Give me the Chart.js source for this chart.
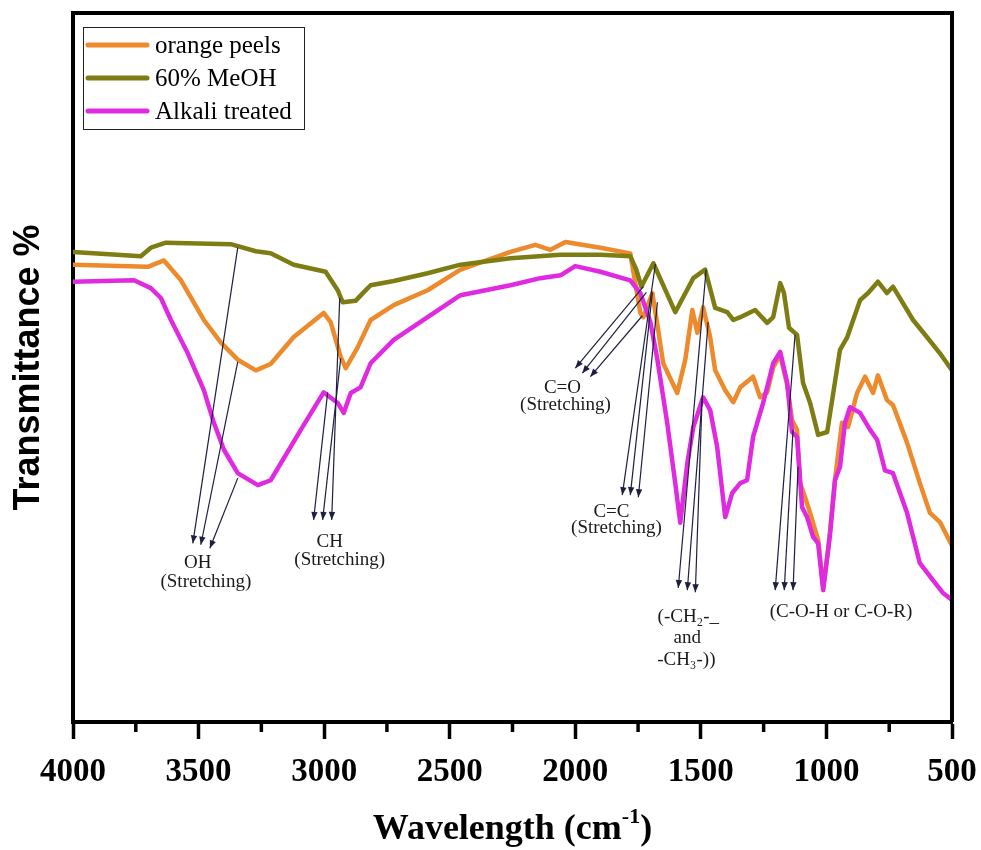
<!DOCTYPE html>
<html>
<head>
<meta charset="utf-8">
<script src="https://cdn.jsdelivr.net/npm/chart.js@4.4.0/dist/chart.umd.min.js"></script>
<style>
  html, body { margin: 0; padding: 0; background: #fff; }
</style>
</head>
<body>
<canvas id="ftirChart" width="981" height="850"></canvas>
<script>
// spectra: wavenumber (cm-1) and transmittance (%)
const orangeWn = [4000, 3702, 3638, 3570, 3479, 3411, 3344, 3272, 3213, 3121, 3002, 2974, 2934, 2914, 2867, 2815, 2723, 2588, 2457, 2258, 2159, 2099, 2039, 1900, 1781, 1741, 1729, 1693, 1670, 1650, 1594, 1562, 1534, 1514, 1491, 1463, 1443, 1403, 1371, 1343, 1292, 1264, 1236, 1212, 1184, 1156, 1137, 1117, 1105, 1085, 1065, 1033, 1013, 993, 966, 938, 914, 878, 846, 814, 795, 759, 735, 679, 628, 588, 548, 502];
const orangeT  = [64.5, 64.2, 65.1, 62.3, 56.7, 53.5, 51.1, 49.6, 50.5, 54.3, 57.7, 56.4, 51.5, 49.9, 52.8, 56.7, 58.8, 60.9, 63.8, 66.3, 67.3, 66.6, 67.7, 66.9, 66.1, 57.7, 57.1, 60.5, 55.3, 50.6, 46.4, 51.1, 58.1, 54.9, 58.5, 54.3, 49.6, 46.8, 45.1, 47.2, 48.7, 45.8, 46.5, 50.0, 51.8, 47.5, 42.6, 41.2, 33.7, 31.7, 29.5, 25.7, 19.0, 24.3, 34.1, 42.2, 41.6, 46.4, 48.7, 46.4, 48.9, 45.4, 44.7, 39.4, 33.7, 29.5, 28.2, 25.0];

const meohWn = [4000, 3730, 3690, 3630, 3372, 3272, 3213, 3121, 2994, 2946, 2926, 2875, 2843, 2815, 2723, 2588, 2457, 2258, 2059, 1900, 1781, 1757, 1737, 1689, 1602, 1530, 1483, 1443, 1395, 1371, 1343, 1284, 1236, 1212, 1184, 1169, 1149, 1117, 1093, 1065, 1033, 997, 946, 918, 866, 834, 795, 759, 735, 655, 600, 548, 502];
const meohT  = [66.3, 65.7, 66.9, 67.6, 67.4, 66.4, 66.1, 64.5, 63.5, 60.9, 59.2, 59.4, 60.6, 61.6, 62.2, 63.3, 64.5, 65.4, 65.9, 65.9, 65.7, 63.8, 61.4, 64.7, 57.8, 62.6, 63.8, 58.4, 57.8, 56.7, 57.1, 58.1, 56.3, 57.1, 61.9, 60.5, 55.6, 54.6, 47.8, 45.0, 40.5, 40.9, 52.5, 54.2, 59.5, 60.5, 62.1, 60.5, 61.4, 56.7, 54.3, 52.0, 49.7];

const alkaliWn = [4000, 3757, 3690, 3650, 3610, 3543, 3479, 3439, 3399, 3344, 3264, 3213, 3093, 3002, 2946, 2922, 2894, 2855, 2815, 2723, 2588, 2457, 2258, 2139, 2059, 2000, 1900, 1781, 1741, 1701, 1673, 1634, 1602, 1582, 1554, 1530, 1491, 1463, 1435, 1403, 1375, 1343, 1316, 1292, 1252, 1212, 1184, 1156, 1137, 1117, 1097, 1077, 1053, 1033, 1013, 985, 966, 946, 926, 906, 866, 826, 798, 767, 735, 679, 628, 576, 536, 502];
const alkaliT  = [62.1, 62.3, 61.2, 59.8, 56.7, 52.0, 46.8, 42.2, 38.4, 35.1, 33.4, 34.1, 41.2, 46.5, 45.0, 43.6, 46.4, 47.2, 50.6, 53.9, 57.1, 60.2, 61.6, 62.6, 63.0, 64.3, 63.5, 62.3, 60.5, 56.4, 51.1, 42.2, 33.7, 28.1, 36.5, 41.6, 45.8, 44.0, 38.8, 28.9, 32.3, 33.7, 34.1, 40.2, 45.0, 50.6, 52.2, 47.8, 40.9, 40.2, 30.3, 28.9, 26.1, 25.2, 18.6, 26.7, 34.1, 36.0, 42.2, 44.4, 43.6, 41.2, 39.8, 35.5, 35.1, 29.5, 22.4, 20.0, 18.2, 17.3];

const xTicks = [4000, 3500, 3000, 2500, 2000, 1500, 1000, 500];
const xMinorTicks = [3750, 3250, 2750, 2250, 1750, 1250, 750];

// band assignments: arrow tails on the curves, arrow heads near the labels (wn, T)
const arrowFrom = [
  [3344, 66.9], [3344, 50.8], [3344, 34.4],
  [2938, 59.8], [2934, 51.3], [2986, 46.5],
  [1729, 61.4], [1717, 60.6], [1733, 57.3],
  [1681, 64.6], [1693, 60.6], [1673, 59.2],
  [1479, 63.8], [1471, 56.4], [1495, 45.7],
  [1125, 54.6], [1133, 41.2], [1113, 36.0]
];
const arrowTo = [
  [3523, 25.2], [3491, 25.0], [3455, 24.5],
  [2970, 28.5], [3006, 28.5], [3042, 28.5],
  [2000, 49.9], [1972, 49.2], [1940, 48.7],
  [1813, 32.0], [1781, 32.0], [1749, 31.7],
  [1590, 18.9], [1554, 18.6], [1522, 18.3],
  [1204, 18.6], [1168, 18.6], [1133, 18.6]
];
const noteText = ['OH', '(Stretching)', 'CH', '(Stretching)', 'C=O', '(Stretching)', 'C=C', '(Stretching)',
                  '(-CH\u2082-_', 'and', '-CH\u2083-))', '(C-O-H or C-O-R)'];
const noteWn = [3503, 3471, 2978, 2938, 2051, 2039, 1856, 1836, 1550, 1554, 1558, 942];
const noteT  = [22.4, 19.7, 25.4, 22.8, 47.1, 44.7, 29.6, 27.4, 14.8, 11.8, 8.7, 15.5];

const serif = "'Liberation Serif', 'Times New Roman', 'DejaVu Serif', serif";
const sans = "'Liberation Sans', Arial, sans-serif";

function toPoints(wn, t) {
  return wn.map((w, i) => ({ x: w, y: t[i] }));
}

// frame, minor ticks, x title with superscript, legend and band notes
const ftirExtras = {
  id: 'ftirExtras',
  afterDraw(chart) {
    const { ctx, chartArea: area, scales: { x, y } } = chart;
    ctx.save();

    ctx.strokeStyle = '#000';
    ctx.lineWidth = 4;
    ctx.beginPath();
    ctx.moveTo(area.left, area.top);
    ctx.lineTo(area.right, area.top);
    ctx.lineTo(area.right, area.bottom);
    ctx.stroke();

    ctx.lineWidth = 3.5;
    xMinorTicks.forEach(v => {
      const px = x.getPixelForValue(v);
      ctx.beginPath();
      ctx.moveTo(px, area.bottom);
      ctx.lineTo(px, area.bottom + 10);
      ctx.stroke();
    });

    // x title: "Wavelength (cm" + superscript "-1" + ")"
    const big = 'bold 36px ' + serif, small = 'bold 22px ' + serif;
    const parts = [['Wavelength (cm', big, 0], ['-1', small, -13], [')', big, 0]];
    let total = 0;
    parts.forEach(p => { ctx.font = p[1]; total += ctx.measureText(p[0]).width; });
    let tx = (area.left + area.right) / 2 - total / 2;
    const ty = chart.height - 20;
    ctx.fillStyle = '#000';
    ctx.textAlign = 'left';
    ctx.textBaseline = 'middle';
    parts.forEach(p => {
      ctx.font = p[1];
      ctx.fillText(p[0], tx, ty + p[2]);
      tx += ctx.measureText(p[0]).width;
    });

    // arrows
    ctx.strokeStyle = '#1e1e40';
    ctx.fillStyle = '#1e1e40';
    ctx.lineWidth = 1.2;
    arrowFrom.forEach((from, i) => {
      const x0 = x.getPixelForValue(from[0]), y0 = y.getPixelForValue(from[1]);
      const x1 = x.getPixelForValue(arrowTo[i][0]), y1 = y.getPixelForValue(arrowTo[i][1]);
      const ang = Math.atan2(y1 - y0, x1 - x0);
      ctx.beginPath();
      ctx.moveTo(x0, y0);
      ctx.lineTo(x1, y1);
      ctx.stroke();
      ctx.beginPath();
      ctx.moveTo(x1, y1);
      ctx.lineTo(x1 - 8 * Math.cos(ang) + 3.2 * Math.sin(ang), y1 - 8 * Math.sin(ang) - 3.2 * Math.cos(ang));
      ctx.lineTo(x1 - 8 * Math.cos(ang) - 3.2 * Math.sin(ang), y1 - 8 * Math.sin(ang) + 3.2 * Math.cos(ang));
      ctx.closePath();
      ctx.fill();
    });

    ctx.fillStyle = '#1a1a1a';
    ctx.font = '19px ' + serif;
    ctx.textAlign = 'center';
    noteText.forEach((txt, i) => {
      ctx.fillText(txt, x.getPixelForValue(noteWn[i]), y.getPixelForValue(noteT[i]));
    });

    // legend box
    ctx.strokeStyle = '#222';
    ctx.lineWidth = 1;
    ctx.strokeRect(83.5, 27.5, 221, 102);
    ctx.font = '25px ' + serif;
    ctx.textAlign = 'left';
    chart.data.datasets.forEach((ds, i) => {
      const ly = 45 + i * 33;
      ctx.strokeStyle = ds.borderColor;
      ctx.lineWidth = 5;
      ctx.lineCap = 'round';
      ctx.beginPath();
      ctx.moveTo(88, ly);
      ctx.lineTo(147, ly);
      ctx.stroke();
      ctx.fillStyle = '#000';
      ctx.fillText(ds.label, 155, ly + 1);
    });
    ctx.restore();
  }
};

new Chart(document.getElementById('ftirChart'), {
  type: 'line',
  data: {
    datasets: [
      { label: 'orange peels', data: toPoints(orangeWn, orangeT), borderColor: '#ec8a2c', order: 3 },
      { label: '60% MeOH', data: toPoints(meohWn, meohT), borderColor: '#7d7d14', order: 2 },
      { label: 'Alkali treated', data: toPoints(alkaliWn, alkaliT), borderColor: '#e02ae0', order: 1 }
    ]
  },
  options: {
    responsive: false,
    animation: false,
    layout: { padding: { left: 0, right: 29, top: 13, bottom: 0 } },
    elements: {
      point: { radius: 0 },
      line: { tension: 0, borderWidth: 4.5, borderJoinStyle: 'round', borderCapStyle: 'round', fill: false }
    },
    plugins: { legend: { display: false }, tooltip: { enabled: false } },
    scales: {
      x: {
        type: 'linear',
        reverse: true,
        min: 500,
        max: 4000,
        afterBuildTicks: axis => { axis.ticks = xTicks.map(v => ({ value: v })); },
        afterFit: axis => {
          axis.height = 128;
          axis.paddingLeft = 0;
          axis.paddingRight = 0;
        },
        ticks: {
          color: '#000',
          padding: 14,
          maxRotation: 0,
          autoSkip: false,
          font: { family: serif, size: 33, weight: 'bold' },
          callback: v => String(v)
        },
        grid: { display: true, drawOnChartArea: false, drawTicks: true, tickLength: 17, tickWidth: 3.5, tickColor: '#000' },
        border: { display: true, width: 4, color: '#000' },
        title: {
          // space is kept here; the text itself is drawn by ftirExtras for the superscript
          display: true,
          text: 'Wavelength (cm-1)',
          color: 'rgba(0,0,0,0)',
          font: { family: serif, size: 36, weight: 'bold', lineHeight: 1.1 },
          padding: { top: 10, bottom: 0 }
        }
      },
      y: {
        min: 0,
        max: 100,
        afterFit: axis => { axis.width = 73; },
        ticks: { display: false },
        grid: { display: false, drawTicks: false },
        border: { display: true, width: 4, color: '#000' },
        title: {
          display: true,
          text: 'Transmittance %',
          color: '#000',
          font: { family: sans, size: 36, weight: 'bold' },
          padding: { top: 7, bottom: 22 }
        }
      }
    }
  },
  plugins: [ftirExtras]
});
</script>
</body>
</html>
